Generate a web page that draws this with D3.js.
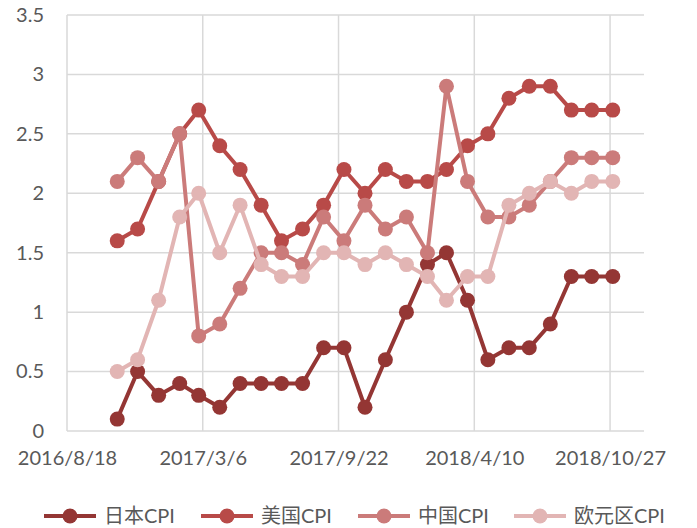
<!DOCTYPE html>
<html>
<head>
<meta charset="utf-8">
<script src="https://cdn.jsdelivr.net/npm/d3@7"></script>
<style>
body{margin:0;background:#fff;}
text{font-family:Lato,"Noto Sans CJK SC",sans-serif;}
</style>
</head>
<body>
<svg id="chart" width="697" height="528"></svg>
<script>
// month-end dates of each reading
var months = ["2016/10/31","2016/11/30","2016/12/31","2017/1/31","2017/2/28","2017/3/31","2017/4/30","2017/5/31","2017/6/30","2017/7/31","2017/8/31","2017/9/30","2017/10/31","2017/11/30","2017/12/31","2018/1/31","2018/2/28","2018/3/31","2018/4/30","2018/5/31","2018/6/30","2018/7/31","2018/8/31","2018/9/30","2018/10/31"];
var japan = [0.1,0.5,0.3,0.4,0.3,0.2,0.4,0.4,0.4,0.4,0.7,0.7,0.2,0.6,1.0,1.4,1.5,1.1,0.6,0.7,0.7,0.9,1.3,1.3,1.3];
var usa   = [1.6,1.7,2.1,2.5,2.7,2.4,2.2,1.9,1.6,1.7,1.9,2.2,2.0,2.2,2.1,2.1,2.2,2.4,2.5,2.8,2.9,2.9,2.7,2.7,2.7];
var china = [2.1,2.3,2.1,2.5,0.8,0.9,1.2,1.5,1.5,1.4,1.8,1.6,1.9,1.7,1.8,1.5,2.9,2.1,1.8,1.8,1.9,2.1,2.3,2.3,2.3];
var euro  = [0.5,0.6,1.1,1.8,2.0,1.5,1.9,1.4,1.3,1.3,1.5,1.5,1.4,1.5,1.4,1.3,1.1,1.3,1.3,1.9,2.0,2.1,2.0,2.1,2.1];
var seriesNames = ["日本CPI","美国CPI","中国CPI","欧元区CPI"];
var xTickLabels = ["2016/8/18","2017/3/6","2017/9/22","2018/4/10","2018/10/27"];
var yTicks = [0,0.5,1,1.5,2,2.5,3,3.5];

var colors = ["#943634","#b84a48","#cb7b7a","#e2b5b4"];
var parse = d3.utcParse("%Y/%m/%d");
var svg = d3.select("#chart");

var plotL = 67, plotR = 644, plotT = 15, plotB = 431;
var x0 = parse("2016/8/18");
var x = d3.scaleUtc().domain([x0, d3.utcDay.offset(x0, 850)]).range([plotL, plotR]);
var y = d3.scaleLinear().domain([0, 3.5]).range([plotB, plotT]);

var xTicks = xTickLabels.map(parse);

// grid
svg.append("g").selectAll("line").data(yTicks).enter().append("line")
  .attr("x1", plotL).attr("x2", plotR)
  .attr("y1", function(d){return y(d);}).attr("y2", function(d){return y(d);})
  .attr("stroke", "#d9d9d9").attr("stroke-width", 1.5);
svg.append("g").selectAll("line").data(xTicks).enter().append("line")
  .attr("x1", function(d){return x(d);}).attr("x2", function(d){return x(d);})
  .attr("y1", plotT).attr("y2", plotB)
  .attr("stroke", "#d9d9d9").attr("stroke-width", 1.5);

// axes labels
var yAxis = d3.axisLeft(y).tickValues(yTicks).tickSize(0).tickPadding(23)
  .tickFormat(function(d){return d3.format("")(d);});
var gy = svg.append("g").attr("transform", "translate(" + plotL + ",0)").call(yAxis);
gy.select(".domain").remove();
gy.selectAll("text").attr("font-size", 20).attr("fill", "#595959").style("font-family", "Lato");

var xAxis = d3.axisBottom(x).tickValues(xTicks).tickSize(0).tickPadding(20)
  .tickFormat(function(d, i){return xTickLabels[i];});
var gx = svg.append("g").attr("transform", "translate(0," + plotB + ")").call(xAxis);
gx.select(".domain").remove();
gx.selectAll("text").attr("font-size", 20).attr("fill", "#595959").style("font-family", "Lato");

// series
var dates = months.map(parse);
var allSeries = [japan, usa, china, euro];
var line = d3.line().x(function(d){return x(d[0]);}).y(function(d){return y(d[1]);});

allSeries.forEach(function(vals, k){
  var pts = vals.map(function(v, i){return [dates[i], v];});
  var g = svg.append("g");
  g.append("path").datum(pts).attr("d", line)
    .attr("fill", "none").attr("stroke", colors[k]).attr("stroke-width", 4)
    .attr("stroke-linejoin", "round");
  g.selectAll("circle").data(pts).enter().append("circle")
    .attr("cx", function(d){return x(d[0]);}).attr("cy", function(d){return y(d[1]);})
    .attr("r", 7.5).attr("fill", colors[k]);
});

// legend
var legendX = [70, 227, 384, 540];
var legendY = 516;
var lg = svg.append("g");
seriesNames.forEach(function(name, k){
  var cx = legendX[k];
  lg.append("line").attr("x1", cx - 26).attr("x2", cx + 26)
    .attr("y1", legendY).attr("y2", legendY)
    .attr("stroke", colors[k]).attr("stroke-width", 4);
  lg.append("circle").attr("cx", cx).attr("cy", legendY).attr("r", 7.5).attr("fill", colors[k]);
  lg.append("text").attr("x", cx + 34).attr("y", legendY).attr("dy", "0.35em")
    .attr("font-size", 20).attr("fill", "#595959").text(name);
});
</script>
</body>
</html>
